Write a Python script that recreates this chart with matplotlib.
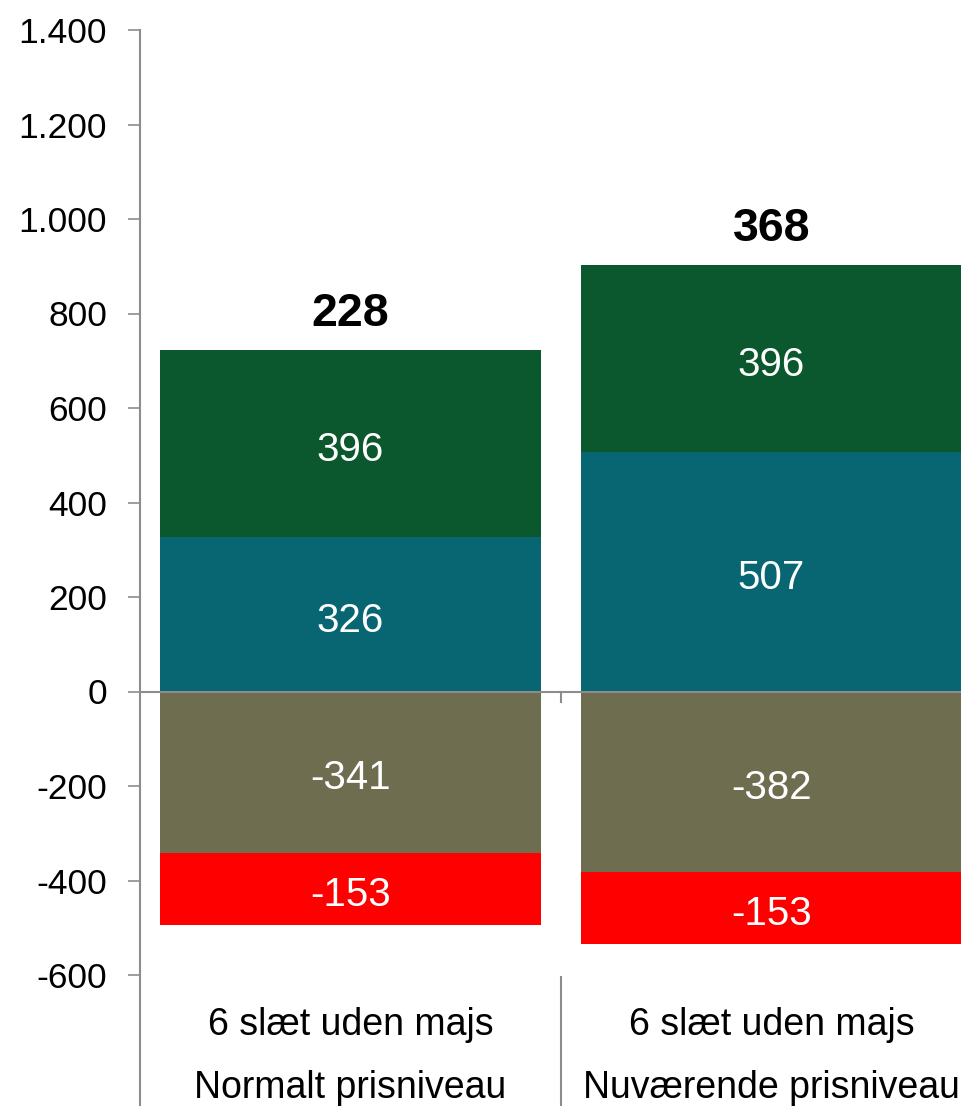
import matplotlib
matplotlib.use("Agg")
import matplotlib.pyplot as plt
from matplotlib.ticker import FuncFormatter, MultipleLocator
import numpy as np

plt.rcParams['font.family'] = ['Liberation Sans', 'DejaVu Sans']

categories_top = ["6 slæt uden majs", "6 slæt uden majs"]
categories_bottom = ["Normalt prisniveau", "Nuværende prisniveau"]

teal_vals = [326, 507]
green_vals = [396, 396]
olive_vals = [-341, -382]
red_vals = [-153, -153]
totals = [228, 368]

green = "#0B572E"
teal = "#086672"
olive = "#6E6D4F"
red = "#FF0000"
gray = "#8C8C8C"

fig = plt.figure(figsize=(9.62, 11.06), dpi=100)
ax = fig.add_axes([140 / 962, 131 / 1106, 842 / 962, 945 / 1106])

x = np.arange(len(totals))
w = 0.905

ax.bar(x, teal_vals, w, color=teal, zorder=2)
ax.bar(x, green_vals, w, bottom=teal_vals, color=green, zorder=2)
ax.bar(x, olive_vals, w, color=olive, zorder=2)
ax.bar(x, red_vals, w, bottom=olive_vals, color=red, zorder=2)

def seg_label(xi, yc, val):
    ax.annotate(str(val), (xi, yc), xytext=(0, -4.5), textcoords='offset points',
                ha='center', va='center', color='white', fontsize=29, zorder=4)

for i in range(len(x)):
    seg_label(x[i], teal_vals[i] / 2, teal_vals[i])
    seg_label(x[i], teal_vals[i] + green_vals[i] / 2, green_vals[i])
    seg_label(x[i], olive_vals[i] / 2, olive_vals[i])
    seg_label(x[i], olive_vals[i] + red_vals[i] / 2, red_vals[i])
    top = teal_vals[i] + green_vals[i]
    ax.annotate(str(totals[i]), (x[i], top), xytext=(0, 26), textcoords='offset points',
                ha='center', va='center', fontsize=33.5, fontweight='bold')

ax.set_xlim(-0.5, 1.5)
ax.set_ylim(-600, 1400)
ax.yaxis.set_major_locator(MultipleLocator(200))
ax.yaxis.set_major_formatter(FuncFormatter(lambda v, p: f"{int(v):,}".replace(",", ".")))
ax.tick_params(axis='y', labelsize=25.5, length=8.6, width=1.2, color=gray, pad=15)
ax.set_xticks([])

for s in ['top', 'right', 'bottom', 'left']:
    ax.spines[s].set_visible(False)

# axes lines
ax.axhline(0, color=gray, lw=1.5, zorder=3)
ax.axvline(-0.5, ymin=-0.14, ymax=1, color=gray, lw=1.5, clip_on=False, zorder=3)
ax.axvline(0.5, ymin=-0.14, ymax=-0.002, color=gray, lw=1.5, clip_on=False, zorder=3)
ax.plot([0.5, 0.5], [0, -22], color=gray, lw=1.5, zorder=3, clip_on=False)

tr = ax.get_xaxis_transform()
for i in range(len(x)):
    ax.text(x[i], -0.0529, categories_top[i], transform=tr, ha='center', va='center',
            fontsize=27)
    ax.text(x[i], -0.1196, categories_bottom[i], transform=tr, ha='center', va='center',
            fontsize=27)

fig.savefig("out.png", dpi=100)
